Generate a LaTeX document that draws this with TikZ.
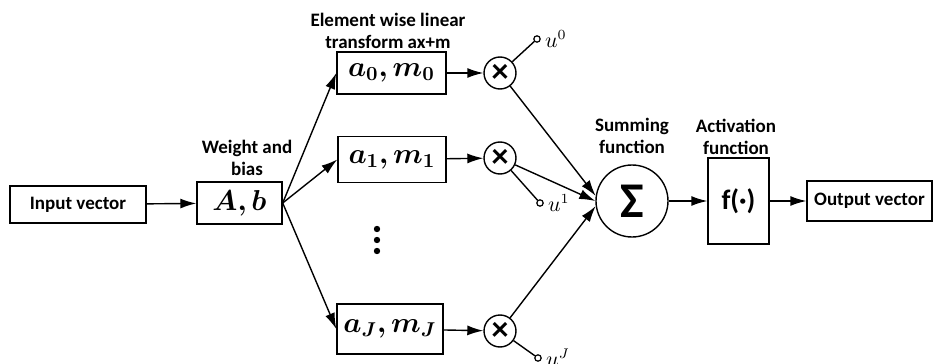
\documentclass[tikz,border=0pt]{standalone}
\usepackage{fontspec}
\setmainfont{Carlito}
\usepackage{amsmath,bm}
\usetikzlibrary{arrows.meta}

\tikzset{
  block/.style={draw, line width=0.7pt, inner sep=0pt},
  mult/.style={draw, circle, line width=0.7pt, minimum size=16pt, inner sep=0pt,
    font=\fontsize{17}{17}\selectfont\bfseries},
  port/.style={draw, circle, line width=0.6pt, minimum size=3.2pt, inner sep=0pt},
  caption/.style={align=center},
  flow/.style={line width=0.7pt, -{Latex[length=8pt,width=5pt]}},
  wire/.style={line width=0.7pt}
}

\begin{document}
\begin{tikzpicture}[x=0.5pt, y=-0.5pt, font=\fontsize{9.5}{11}\selectfont\bfseries]
\useasboundingbox (0,0) rectangle (933,364);

%blocks
\node[block, minimum width=68pt, minimum height=18.5pt] (in) at (78,204.5) {Input vector};
\node[block, minimum width=42.5pt, minimum height=21pt, font=\fontsize{15}{15}\selectfont] (wb) at (239.5,203) {$\bm{A,b}$};
\node[block, minimum width=54.5pt, minimum height=21pt, font=\fontsize{14}{14}\selectfont] (a0) at (391.5,73) {$\bm{a_0,m_0}$};
\node[block, minimum width=54pt, minimum height=23pt, font=\fontsize{14}{14}\selectfont] (a1) at (392,159.5) {$\bm{a_1,m_1}$};
\node[block, minimum width=53pt, minimum height=25pt, font=\fontsize{14}{14}\selectfont] (aJ) at (390,329) {$\bm{a_J,m_J}$};

%multipliers and their inputs
\node[mult] (m0) at (500,73) {×};
\node[mult] (m1) at (500,158) {×};
\node[mult] (mJ) at (500,331) {×};
\node[port, label={[font=\fontsize{10.5}{10.5}\selectfont, inner sep=2pt]right:$u^0$}] (u0) at (537,39) {};
\node[port, label={[font=\fontsize{10.5}{10.5}\selectfont, inner sep=2pt]right:$u^1$}] (u1) at (540,203) {};
\node[port, label={[font=\fontsize{10.5}{10.5}\selectfont, inner sep=2pt]right:$u^J$}] (uJ) at (538,358) {};

%sum, activation, output
\node[draw, circle, line width=0.7pt, minimum size=36pt, inner sep=0pt, font=\fontsize{25}{25}\selectfont\bfseries] (sum) at (632,201) {Σ};
\node[block, minimum width=30.5pt, minimum height=43pt, font=\fontsize{14}{14}\selectfont\bfseries] (act) at (738.5,201) {f(·)};
\node[block, minimum width=62.5pt, minimum height=20pt] (out) at (869.5,201) {Output vector};

%captions
\node[caption] (wbtxt) at (247,158) {Weight and\\bias};
\node[caption] (atxt) at (388,31) {Element wise linear\\transform ax+m};
\node[caption] (sumtxt) at (632,136) {Summing\\function};
\node[caption] (acttxt) at (736,137) {Activation\\function};

%dots
\fill (377,229) circle (1.6pt) (377,240) circle (1.6pt) (377,251) circle (1.6pt);

%connections
\draw[flow] (in) -- (wb);
\draw[flow] (wb.east) -- (a0.west);
\draw[flow] (wb.east) -- (a1.west);
\draw[flow] (wb.east) -- (aJ.west);
\draw[flow] (a0) -- (m0);
\draw[flow] (a1) -- (m1);
\draw[flow] (aJ) -- (mJ);
\draw[wire] (m0) -- (u0);
\draw[wire] (m1) -- (u1);
\draw[wire] (mJ) -- (uJ);
\draw[flow] (m0) -- (sum.172);
\draw[flow] (m1) -- (sum.west);
\draw[flow] (mJ) -- (sum.188);
\draw[flow] (sum) -- (act);
\draw[flow] (act) -- (out);
\end{tikzpicture}
\end{document}
